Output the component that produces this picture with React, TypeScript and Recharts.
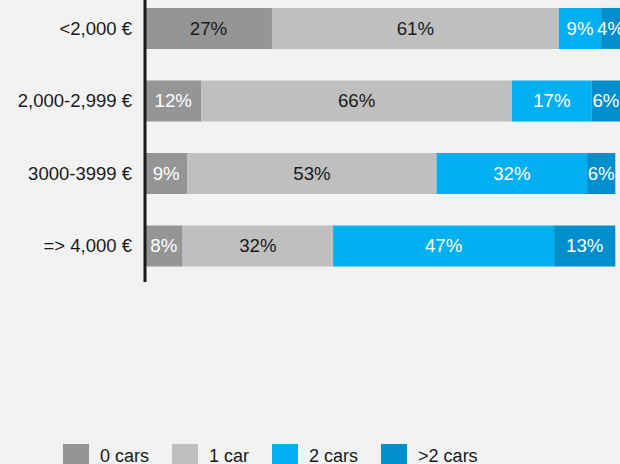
import { BarChart, Bar, XAxis, YAxis, LabelList, Legend } from "recharts";

const incomeBands = ["<2,000 €", "2,000-2,999 €", "3000-3999 €", "=> 4,000 €"];
const zeroCars = [27, 12, 9, 8];
const oneCar = [61, 66, 53, 32];
const twoCars = [9, 17, 32, 47];
const moreCars = [4, 6, 6, 13];

const seriesNames = ["0 cars", "1 car", "2 cars", ">2 cars"];

const FONT = '"Liberation Sans", Arial, sans-serif';
const DARK = "#1a1a1a";
const COLORS = ["#959595", "#bfbfbf", "#00b0f0", "#008fcc"];
// label text colours per row for the first series
const zeroLabelColors = [DARK, "#fff", "#fff", "#fff"];

const data = incomeBands.map((band, i) => ({
  band,
  zero: zeroCars[i],
  one: oneCar[i],
  two: twoCars[i],
  more: moreCars[i],
}));

const makeLabel = (colorFor: (i: number) => string, boxFill?: string) => (props: any) => {
  const { x, y, width, height, value, index } = props;
  const cx = Number(x) + Number(width) / 2;
  const cy = Number(y) + Number(height) / 2;
  const text = `${value}%`;
  const textW = text.length * 10.4 - 4;
  const needBox = boxFill && textW > Number(width);
  return (
    <g>
      {needBox && (
        <rect x={cx - textW / 2 - 4} y={cy - 11} width={textW + 8} height={22} fill={boxFill} />
      )}
      <text
        x={cx}
        y={cy}
        textAnchor="middle"
        dominantBaseline="central"
        fill={colorFor(index)}
        fontSize={18.67}
        fontFamily={FONT}
      >
        {text}
      </text>
    </g>
  );
};

const renderLegend = (props: any) => {
  const { payload } = props;
  return (
    <div style={{ display: "flex", fontFamily: FONT, fontSize: 18, color: DARK }}>
      {payload.map((item: any) => (
        <div key={item.value} style={{ display: "flex", alignItems: "flex-start", marginRight: 23 }}>
          <span style={{ width: 26, height: 26, background: item.color, marginRight: 11 }} />
          <span style={{ marginTop: 1.5, whiteSpace: "nowrap" }}>{item.value}</span>
        </div>
      ))}
    </div>
  );
};

export default function App() {
  return (
    <>
      <style>{"body{margin:0;background:#f2f2f2}"}</style>
      <div style={{ position: "relative", width: 620, height: 464, overflow: "hidden", background: "#f2f2f2" }}>
        <BarChart
          width={620}
          height={473}
          data={data}
          layout="vertical"
          barCategoryGap="22%"
          margin={{ top: 0, right: 0, bottom: 183, left: 0 }}
          style={{ position: "absolute", top: -8.5, left: 0 }}
        >
          <XAxis type="number" domain={[0, 101]} hide />
          <YAxis
            type="category"
            dataKey="band"
            width={145}
            axisLine={{ stroke: DARK, strokeWidth: 3 }}
            tickLine={false}
            tickSize={6}
            tickMargin={7}
            tick={{ fill: DARK, fontSize: 18.5, fontFamily: FONT }}
          />
          <Legend
            layout="horizontal"
            verticalAlign="middle"
            align="center"
            content={renderLegend}
            wrapperStyle={{ top: 452.5, left: 63, width: "auto" }}
          />
          <Bar dataKey="zero" name={seriesNames[0]} stackId="s" fill={COLORS[0]} isAnimationActive={false}>
            <LabelList dataKey="zero" content={makeLabel((i) => zeroLabelColors[i])} />
          </Bar>
          <Bar dataKey="one" name={seriesNames[1]} stackId="s" fill={COLORS[1]} isAnimationActive={false}>
            <LabelList dataKey="one" content={makeLabel(() => DARK)} />
          </Bar>
          <Bar dataKey="two" name={seriesNames[2]} stackId="s" fill={COLORS[2]} isAnimationActive={false}>
            <LabelList dataKey="two" content={makeLabel(() => "#fff")} />
          </Bar>
          <Bar dataKey="more" name={seriesNames[3]} stackId="s" fill={COLORS[3]} isAnimationActive={false}>
            <LabelList dataKey="more" content={makeLabel(() => "#fff", COLORS[3])} />
          </Bar>
        </BarChart>
      </div>
    </>
  );
}
